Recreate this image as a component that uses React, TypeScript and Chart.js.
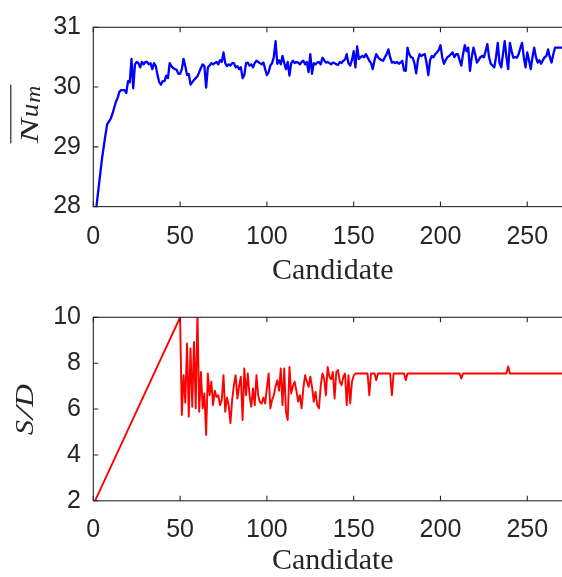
import React, { useEffect, useRef } from "react";
import { Chart, registerables } from "chart.js";

Chart.register(...registerables);

// ---------- DATA ----------
const X_MAX = 276;
const xTicks = [0, 50, 100, 150, 200, 250];
const nuTicks = [28, 29, 30, 31];
const sdTicks = [2, 4, 6, 8, 10];

// mean Nusselt number per candidate (candidate 1 .. 276)
const nuValues = [
  27.8, 28.05, 28.3, 28.55, 28.8, 29.0, 29.2, 29.38, 29.42, 29.47,
  29.55, 29.65, 29.75, 29.82, 29.92, 29.95, 29.95, 29.95, 29.9, 30.1,
  30.08, 30.47, 29.98, 30.38, 30.42, 30.4, 30.33, 30.42, 30.38, 30.42,
  30.42, 30.38, 30.4, 30.3, 30.4, 30.35, 30.2, 30.08, 30.04, 30.1,
  30.1, 30.19, 30.15, 30.4, 30.35, 30.32, 30.3, 30.29, 30.22, 30.22,
  30.3, 30.47, 30.35, 30.2, 30.22, 30.04, 30.08, 30.12, 30.15, 30.18,
  30.25, 30.32, 30.38, 30.35, 29.99, 30.33, 30.36, 30.4, 30.38, 30.4,
  30.42, 30.38, 30.45, 30.42, 30.58, 30.4, 30.35, 30.38, 30.36, 30.4,
  30.4, 30.33, 30.35, 30.3, 30.33, 30.15, 30.2, 30.4, 30.41, 30.36,
  30.38, 30.33, 30.4, 30.44, 30.42, 30.4, 30.38, 30.41, 30.3, 30.2,
  30.25, 30.36, 30.4, 30.5, 30.77, 30.39, 30.45, 30.38, 30.52, 30.4,
  30.3, 30.42, 30.19, 30.4, 30.44, 30.4, 30.42, 30.41, 30.38, 30.42,
  30.44, 30.38, 30.42, 30.25, 30.55, 30.22, 30.4, 30.38, 30.41, 30.42,
  30.38, 30.49, 30.45, 30.41, 30.42, 30.4, 30.38, 30.41, 30.4, 30.38,
  30.37, 30.42, 30.4, 30.44, 30.46, 30.55, 30.4, 30.36, 30.45, 30.6,
  30.33, 30.68, 30.47, 30.5, 30.52, 30.5, 30.55, 30.5, 30.44, 30.4,
  30.3, 30.45, 30.55, 30.5, 30.47, 30.45, 30.44, 30.5, 30.55, 30.63,
  30.5, 30.41, 30.42, 30.4, 30.42, 30.39, 30.41, 30.44, 30.28, 30.27,
  30.66, 30.55, 30.5, 30.49, 30.4, 30.23, 30.45, 30.55, 30.52, 30.54,
  30.55, 30.4, 30.2, 30.45, 30.52, 30.5, 30.55, 30.58, 30.62, 30.7,
  30.5, 30.39, 30.45, 30.5, 30.52, 30.55, 30.58, 30.5, 30.55, 30.55,
  30.45, 30.36, 30.55, 30.7, 30.6, 30.66, 30.27, 30.5, 30.66, 30.55,
  30.41, 30.45, 30.5, 30.52, 30.5, 30.6, 30.72, 30.5, 30.39, 30.36,
  30.33, 30.5, 30.74, 30.4, 30.33, 30.55, 30.77, 30.5, 30.3, 30.74,
  30.6, 30.49, 30.5, 30.49, 30.55, 30.65, 30.74, 30.5, 30.33, 30.58,
  30.45, 30.3, 30.5, 30.66, 30.5, 30.41, 30.45, 30.39, 30.45, 30.5,
  30.52, 30.63, 30.5, 30.41, 30.55, 30.66, 30.66, 30.66, 30.66, 30.66,
  30.66, 30.66, 30.66, 30.66, 30.66, 30.66,
];

// S/D: initial sweep
const sdRampCandidates = [1, 50];
const sdRampValues = [2, 10];
// S/D: optimisation phase, one value per candidate starting at 51
const sdNoisyStart = 51;
const sdNoisyValues = [
  5.74, 7.48, 6.28, 8.86, 5.67, 8.64, 6.1, 8.93, 6.03, 10.3,
  5.88, 7.62, 6.03, 6.68, 4.87, 7.55, 6.6, 7.19, 6.17, 6.8,
  6.53, 6.6, 6.17, 6.4, 7.48, 5.88, 6.5, 6.17, 5.38, 6.4,
  7.04, 7.48, 6.46, 7.0, 7.41, 5.52, 7.77, 6.6, 7.55, 6.6,
  6.1, 6.9, 6.17, 7.48, 6.6, 6.3, 6.24, 6.5, 6.24, 6.9,
  7.55, 6.03, 6.4, 6.6, 7.0, 7.26, 6.8, 7.77, 6.17, 7.77,
  5.88, 5.52, 7.84, 6.68, 7.0, 7.19, 6.8, 6.32, 6.6, 6.03,
  6.9, 7.48, 7.2, 6.97, 7.41, 6.97, 6.32, 6.75, 6.17, 6.03,
  7.0, 7.55, 7.33, 6.6, 7.84, 7.41, 7.3, 7.62, 6.46, 7.62,
  7.7, 7.2, 7.04, 7.4, 7.55, 6.17, 7.48, 6.24, 7.19, 7.45,
];
// S/D: converged phase (breakpoints)
const sdFlatCandidates = [151, 158, 159, 160, 162, 163, 164, 171, 172, 173, 179, 180, 181, 211, 212, 213, 238, 239, 240, 276];
const sdFlatValues = [7.55, 7.55, 6.6, 7.55, 7.55, 7.26, 7.55, 7.55, 6.6, 7.55, 7.55, 7.26, 7.55, 7.55, 7.33, 7.55, 7.55, 7.86, 7.55, 7.55];

// ---------- DRAWING HELPERS ----------
const AXIS = "#262626";
const TICK_FONT = { family: "'Liberation Sans', Arial, sans-serif", size: 25 };

function glyph(ctx: CanvasRenderingContext2D, ch: string, x: number, y: number, font: string, advance: number) {
  ctx.font = font;
  const w = ctx.measureText(ch).width || 1;
  ctx.save();
  ctx.translate(x, y);
  ctx.scale(advance / w, 1);
  ctx.textAlign = "left";
  ctx.textBaseline = "alphabetic";
  ctx.fillText(ch, 0, 0);
  ctx.restore();
}

function drawNuLabel(ctx: CanvasRenderingContext2D, cx: number, cy: number) {
  ctx.save();
  ctx.translate(cx, cy);
  ctx.rotate(-Math.PI / 2);
  ctx.fillStyle = AXIS;
  const f = "italic 25px 'Liberation Serif', serif";
  glyph(ctx, "N", -29, 0, f, 25);
  glyph(ctx, "u", -3, 0, f, 13.5);
  glyph(ctx, "m", 11.5, 2, "italic 21px 'Liberation Serif', serif", 17);
  ctx.strokeStyle = AXIS;
  ctx.lineWidth = 1.2;
  ctx.beginPath();
  ctx.moveTo(-29, -27.5);
  ctx.lineTo(29.5, -27.5);
  ctx.stroke();
  ctx.restore();
}

function drawSDLabel(ctx: CanvasRenderingContext2D, cx: number, cy: number) {
  ctx.save();
  ctx.translate(cx, cy);
  ctx.rotate(-Math.PI / 2);
  ctx.fillStyle = AXIS;
  const f = "italic 26px 'Liberation Serif', serif";
  glyph(ctx, "S", -26, 0, f, 15);
  glyph(ctx, "/", -10, 0, f, 12);
  glyph(ctx, "D", 2, 0, f, 23);
  ctx.restore();
}

type PanelProps = {
  top: number;
  height: number;
  areaTop: number;
  areaBottom: number;
  points: { x: number; y: number }[];
  color: string;
  lineWidth: number;
  yMin: number;
  yMax: number;
  yTicks: number[];
  xLabelPad: number;
  titleBaseline: number;
  yLabel: "nu" | "sd";
  yLabelX: number;
  yLabelY: number;
};

const CANVAS_W = 600;
const AREA_LEFT = 93.3;
const AREA_RIGHT = 572.4;

function Panel(p: PanelProps) {
  const ref = useRef<HTMLCanvasElement | null>(null);
  useEffect(() => {
    if (!ref.current) return;
    const boxPlugin = {
      id: "matlabBox",
      afterDraw(chart: any) {
        const { ctx, chartArea: a, scales } = chart;
        ctx.save();
        ctx.strokeStyle = AXIS;
        ctx.lineWidth = 1.1;
        ctx.strokeRect(a.left, a.top, a.right - a.left, a.bottom - a.top);
        const tl = 5;
        ctx.beginPath();
        scales.x.ticks.forEach((t: any) => {
          const px = scales.x.getPixelForValue(t.value);
          ctx.moveTo(px, a.bottom);
          ctx.lineTo(px, a.bottom - tl);
          ctx.moveTo(px, a.top);
          ctx.lineTo(px, a.top + tl);
        });
        scales.y.ticks.forEach((t: any) => {
          const py = scales.y.getPixelForValue(t.value);
          ctx.moveTo(a.left, py);
          ctx.lineTo(a.left + tl, py);
          ctx.moveTo(a.right, py);
          ctx.lineTo(a.right - tl, py);
        });
        ctx.stroke();
        ctx.fillStyle = AXIS;
        ctx.font = "30px 'Liberation Serif', serif";
        ctx.textAlign = "center";
        ctx.textBaseline = "alphabetic";
        ctx.fillText("Candidate", (a.left + a.right) / 2, p.titleBaseline);
        if (p.yLabel === "nu") drawNuLabel(ctx, p.yLabelX, p.yLabelY);
        else drawSDLabel(ctx, p.yLabelX, p.yLabelY);
        ctx.restore();
      },
    };
    const chart = new Chart(ref.current, {
      type: "line",
      data: {
        datasets: [
          {
            data: p.points,
            borderColor: p.color,
            borderWidth: p.lineWidth,
            borderJoinStyle: "round",
            pointRadius: 0,
            tension: 0,
            fill: false,
          },
        ],
      },
      options: {
        animation: false,
        responsive: false,
        devicePixelRatio: 1,
        layout: { padding: { top: p.areaTop, right: CANVAS_W - AREA_RIGHT, left: 0, bottom: 0 } },
        plugins: { legend: { display: false }, tooltip: { enabled: false } },
        scales: {
          x: {
            type: "linear",
            min: 0,
            max: X_MAX,
            grid: { display: false, drawTicks: false },
            border: { display: false },
            ticks: { font: TICK_FONT, color: AXIS, padding: p.xLabelPad, maxRotation: 0, autoSkip: false },
            afterBuildTicks: (s: any) => {
              s.ticks = xTicks.map((v) => ({ value: v }));
            },
            afterFit: (s: any) => {
              s.height = p.height - p.areaBottom;
            },
          },
          y: {
            type: "linear",
            min: p.yMin,
            max: p.yMax,
            grid: { display: false, drawTicks: false },
            border: { display: false },
            ticks: { font: TICK_FONT, color: AXIS, padding: 12.3, autoSkip: false },
            afterBuildTicks: (s: any) => {
              s.ticks = p.yTicks.map((v) => ({ value: v }));
            },
            afterFit: (s: any) => {
              s.width = AREA_LEFT;
            },
          },
        },
      },
      plugins: [boxPlugin],
    } as any);
    return () => chart.destroy();
  }, []);
  return (
    <canvas
      ref={ref}
      width={CANVAS_W}
      height={p.height}
      style={{ position: "absolute", left: 0, top: p.top, width: CANVAS_W, height: p.height }}
    />
  );
}

export default function App() {
  const nuPoints = nuValues.map((v, i) => ({ x: i + 1, y: v }));
  const sdPoints = [
    ...sdRampCandidates.map((c, i) => ({ x: c, y: sdRampValues[i] })),
    ...sdNoisyValues.map((v, i) => ({ x: sdNoisyStart + i, y: v })),
    ...sdFlatCandidates.map((c, i) => ({ x: c, y: sdFlatValues[i] })),
  ];
  return (
    <div
      style={{
        position: "fixed",
        left: 0,
        top: 0,
        width: 562,
        height: 577,
        overflow: "hidden",
        background: "#ffffff",
      }}
    >
      <Panel
        top={0}
        height={290}
        areaTop={23.3}
        areaBottom={206.6}
        points={nuPoints}
        color="#0000ff"
        lineWidth={2.3}
        yMin={28}
        yMax={31}
        yTicks={nuTicks}
        xLabelPad={16}
        titleBaseline={279}
        yLabel="nu"
        yLabelX={38.3}
        yLabelY={114.2}
      />
      <Panel
        top={290}
        height={287}
        areaTop={27}
        areaBottom={210.8}
        points={sdPoints}
        color="#ff0000"
        lineWidth={1.9}
        yMin={2}
        yMax={10}
        yTicks={sdTicks}
        xLabelPad={14}
        titleBaseline={279}
        yLabel="sd"
        yLabelX={33.3}
        yLabelY={119}
      />
    </div>
  );
}
